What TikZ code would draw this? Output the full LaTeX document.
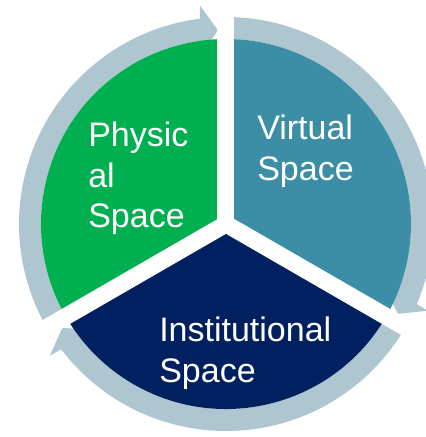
\documentclass[tikz,border=0pt]{standalone}
\usepackage{fontspec}
\setmainfont{Liberation Sans}
\usepackage{tikz}

\definecolor{ringgray}{RGB}{174,198,208}
\definecolor{physgreen}{RGB}{0,176,80}
\definecolor{virtteal}{RGB}{59,142,166}
\definecolor{instnavy}{RGB}{0,32,96}

\begin{document}
\begin{tikzpicture}[x=0.75pt,y=0.75pt,yscale=-1,xscale=1,
  spacelabel/.style={anchor=north west,inner sep=0.75pt,align=left,text=white,
    font=\fontsize{25.5}{30.4}\selectfont}]
\useasboundingbox (0,0) rectangle (426,437);
\coordinate (c) at (226,224);

\begin{scope}[shift={(c)}]
%Ring arc: Physical -> Virtual
\fill [ringgray] (150:185) arc [start angle=150, end angle=264, radius=185] -- (264:207) arc [start angle=264, end angle=150, radius=207] -- cycle;
\fill [ringgray] (263.2:220) -- (267.6:194) -- (261.2:169) -- cycle;
%Ring arc: Virtual -> Institutional
\fill [ringgray] (270:185) arc [start angle=270, end angle=384, radius=185] -- (384:207) arc [start angle=384, end angle=270, radius=207] -- cycle;
\fill [ringgray] (383.2:220) -- (387.6:194) -- (381.2:169) -- cycle;
%Ring arc: Institutional -> Physical
\fill [ringgray] (30:185) arc [start angle=30, end angle=144, radius=185] -- (144:207) arc [start angle=144, end angle=30, radius=207] -- cycle;
\fill [ringgray] (143.2:220) -- (147.6:194) -- (141.2:169) -- cycle;

%Sector: Physical
\fill [physgreen] (0,0) -- (150:185) arc [start angle=150, end angle=270, radius=185] -- cycle;
%Sector: Virtual
\fill [virtteal] (0,0) -- (270:185) arc [start angle=270, end angle=390, radius=185] -- cycle;
%Sector: Institutional
\fill [instnavy] (0,0) -- (30:185) arc [start angle=30, end angle=150, radius=185] -- cycle;

%Gaps
\draw [white, line width=12.75pt] (0,0) -- (270:240);
\draw [white, line width=12.75pt] (0,0) -- (150:240);
\draw [white, line width=12.75pt] (0,0) -- (30:240);
\end{scope}

% Text Node
\draw (87,121) node (physical) [spacelabel] {Physic\\al\\Space};
% Text Node
\draw (256,114) node (virtual) [spacelabel] {Virtual\\Space};
% Text Node
\draw (158,316) node (institutional) [spacelabel] {Institutional\\Space};

\end{tikzpicture}
\end{document}
